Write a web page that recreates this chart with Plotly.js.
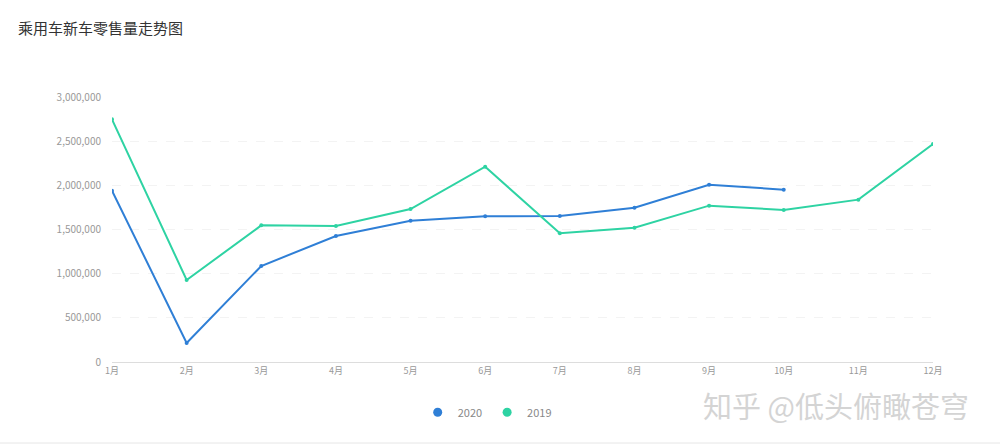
<!DOCTYPE html>
<html>
<head>
<meta charset="utf-8">
<script src="https://cdn.plot.ly/plotly-3.0.1.min.js"></script>
<style>html,body{margin:0;padding:0;background:#fff;}#chart{width:1000px;height:446px;}</style>
</head>
<body>
<div id="chart"></div>
<script>
const months = ["1月","2月","3月","4月","5月","6月","7月","8月","9月","10月","11月","12月"];
const sales2020 = [1940000, 215000, 1087000, 1426000, 1600000, 1649000, 1652000, 1747000, 2007000, 1951000];
const sales2019 = [2747000, 928000, 1547000, 1540000, 1732000, 2211000, 1457000, 1521000, 1770000, 1721000, 1838000, 2468000];
const yTicks = [0, 500000, 1000000, 1500000, 2000000, 2500000, 3000000];
const yTickLabels = ["0","500,000","1,000,000","1,500,000","2,000,000","2,500,000","3,000,000"];
const seriesNames = ["2020","2019"];
const colors = ["#2f7fd6", "#2ed3a3"];

const font = "'Noto Sans CJK SC', 'Noto Sans', sans-serif";

const traces = [
  {x: months.slice(0, sales2020.length), y: sales2020, name: seriesNames[0], mode: "lines+markers",
   line: {color: colors[0], width: 2}, marker: {size: 4, color: colors[0]}, showlegend: false},
  {x: months, y: sales2019, name: seriesNames[1], mode: "lines+markers",
   line: {color: colors[1], width: 2}, marker: {size: 4, color: colors[1]}, showlegend: false},
  {x: [null], y: [null], name: seriesNames[0], mode: "markers", marker: {size: 9, color: colors[0]}},
  {x: [null], y: [null], name: seriesNames[1], mode: "markers", marker: {size: 9, color: colors[1]}}
];

const layout = {
  width: 1000, height: 446,
  margin: {l: 112, r: 67, t: 97, b: 84},
  paper_bgcolor: "#fff", plot_bgcolor: "#fff",
  font: {family: font, color: "#999"},
  title: {text: "乘用车新车零售量走势图", x: 0.018, xanchor: "left", y: 0.935, yanchor: "middle",
          font: {family: font, size: 15, color: "#333"}},
  xaxis: {type: "category", categoryorder: "array", categoryarray: months, range: [0, 11],
          showgrid: false, zeroline: false, showline: true, linecolor: "#ddd", linewidth: 1,
          ticks: "", tickfont: {size: 9, color: "#999"}, fixedrange: true},
  yaxis: {range: [0, 3000000], tickvals: yTicks, ticktext: yTickLabels,
          showgrid: true, gridcolor: "#f3f3f3", griddash: "dash", zeroline: false, showline: false,
          ticks: "", ticklabelstandoff: 10, tickfont: {size: 10, color: "#999"}, fixedrange: true},
  showlegend: true,
  legend: {orientation: "h", x: 0.457, xanchor: "center", y: -0.135, yanchor: "top",
           font: {size: 11, color: "#888"}, itemwidth: 30, tracegroupgap: 0},
  annotations: [
    {text: "知乎 @低头俯瞰苍穹", xref: "paper", yref: "paper", x: 1.0 + 38/821, xanchor: "right",
     y: -(405-362)/265, yanchor: "middle", showarrow: false,
     font: {family: font, size: 29, color: "#d4d4d4"}}
  ],
  shapes: [
    {type: "line", xref: "paper", yref: "paper", x0: -112/821, x1: 1 + 67/821, y0: -(443-362)/265, y1: -(443-362)/265,
     line: {color: "#e6e6e6", width: 1}}
  ]
};

Plotly.newPlot("chart", traces, layout, {displayModeBar: false, staticPlot: true});
</script>
</body>
</html>
